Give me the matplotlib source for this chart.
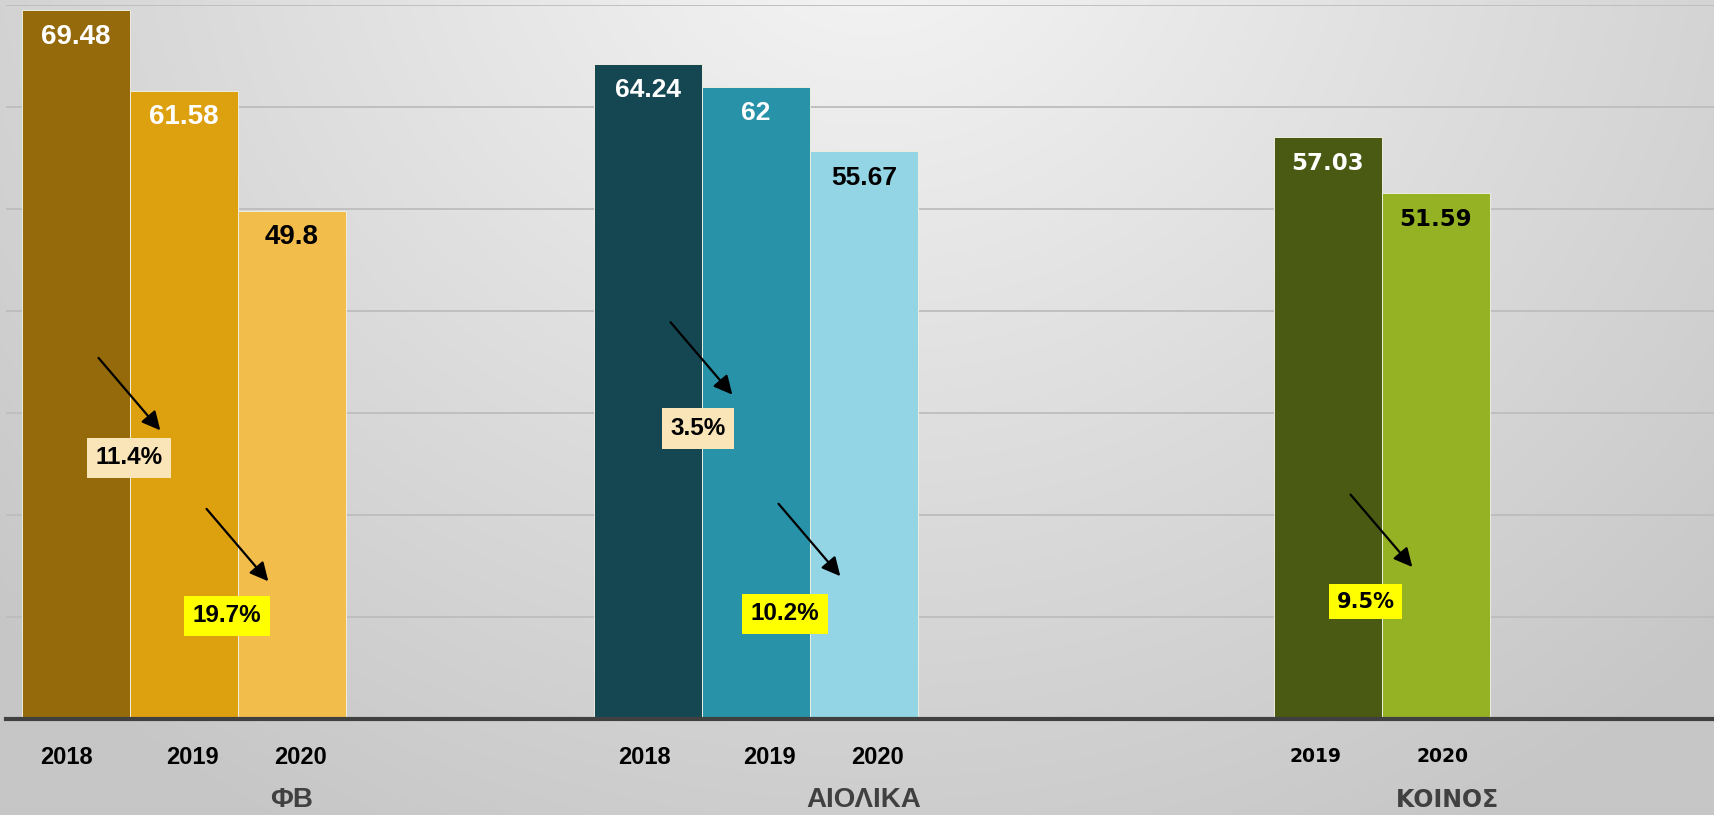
import numpy as np
import matplotlib
matplotlib.use("Agg")
import matplotlib.pyplot as plt
from matplotlib import font_manager as fm
from matplotlib.transforms import blended_transform_factory

# ---------------- data ----------------
categories = ['ΦΒ', 'ΑΙΟΛΙΚΑ', 'ΚΟΙΝΟΣ']
years = ['2018', '2019', '2020']
v2018 = [69.48, 64.24, np.nan]
v2019 = [61.58, 62.0, 57.03]
v2020 = [49.80, 55.67, 51.59]
v_extra = [0.15, np.nan, np.nan]      # tiny 4th bar in ΦΒ group

colors2018 = ['#946A0B', '#154753', '#000000']
colors2019 = ['#DDA00F', '#2892A8', '#4A5A12']
colors2020 = ['#F2BD4A', '#94D5E5', '#94B224']
label_colors = ['white', 'white', 'black']

change_labels = ['11.4%', '19.7%', '3.5%', '10.2%', '9.5%']
change_cat = [0, 0, 1, 1, 2]
change_slot = [0, 1, 0, 1, 1]          # arrow from slot j to slot j+1
arrow_start = [35.4, 20.6, 38.9, 21.1, 22.0]
arrow_drop = 7.1
box_y = [25.6, 10.1, 28.5, 10.3, 11.5]
box_dx = [-0.002, -0.019, -0.007, -0.044, -0.028]
box_colors = ['#FAE5B8', '#FFFF00', '#FAE5B8', '#FFFF00', '#FFFF00']

year_dx = [[-0.016, 0.014, 0.014], [-0.007, 0.024, 0.024], [0, -0.021, 0.012]]

# ---------------- fonts ----------------
avail = {f.name for f in fm.fontManager.ttflist}
base_font = 'Liberation Sans' if 'Liberation Sans' in avail else 'DejaVu Sans'
narrow_font = 'Liberation Sans Narrow' if 'Liberation Sans Narrow' in avail else base_font
wide_font = 'DejaVu Sans'
group_fonts = [narrow_font, base_font, wide_font]
value_sizes = [20, 19, 16.5]
year_sizes = [17, 17, 13.5]

W, H = 1715, 815
fig = plt.figure(figsize=(W / 100, H / 100), dpi=100)

# background gradient
bg = fig.add_axes([0, 0, 1, 1], zorder=-10)
yy, xx = np.mgrid[0:H, 0:W]
d = np.sqrt(((xx - 870) / 1000.0) ** 2 + ((yy + 100) / 900.0) ** 2)
val = np.clip(246 - 40 * d, 198, 250) / 255.0
bg.imshow(np.dstack([val, val, val]), aspect='auto', extent=[0, 1, 0, 1], origin='upper')
bg.axis('off')

ax = fig.add_axes([6 / W, 96 / H, (W - 6) / W, 714 / H])
ax.patch.set_alpha(0)
ax.set_xlim(-0.5, -0.5 + (W - 6) / 572)
ax.set_ylim(0, 70)

w = 108 / 572
nslots = 5
x = np.arange(len(categories))
fig_y = blended_transform_factory(ax.transData, fig.transFigure)

def slot_x(i, j):
    return x[i] + (j - (nslots - 1) / 2) * w

series = [v2018, v2019, v2020]
series_colors = [colors2018, colors2019, colors2020]
for j, (vals, cols) in enumerate(zip(series, series_colors)):
    for i, v in enumerate(vals):
        if np.isnan(v):
            continue
        ax.bar(slot_x(i, j), v, width=w, color=cols[i], edgecolor='#EDEDE0',
               linewidth=0.7, zorder=3)
        ax.annotate(f"{v:g}", (slot_x(i, j), v), xytext=(0, -19), textcoords='offset points',
                    ha='center', va='center', fontsize=value_sizes[i], fontweight='bold',
                    color=label_colors[j], family=group_fonts[i], zorder=5)
        ax.text(slot_x(i, j) + year_dx[i][j], (H - 757) / H, years[j], transform=fig_y,
                ha='center', va='center', fontsize=year_sizes[i],
                fontweight='bold', color='black', family=group_fonts[i])
for i, v in enumerate(v_extra):
    if not np.isnan(v):
        ax.bar(slot_x(i, 3), v, width=w, color='#F2E9A6', edgecolor='#F2E9A6',
               linewidth=0.7, zorder=3)

# category labels
for i, c in enumerate(categories):
    fs = 20 if i < 2 else 17
    ax.text(x[i] + (0.02 if i == 2 else 0), (H - 800) / H, c, transform=fig_y,
            ha='center', va='center', fontsize=fs, fontweight='bold',
            color='#404040', family=wide_font if i == 2 else base_font)

# change arrows and boxes
for k, lab in enumerate(change_labels):
    i, j = change_cat[k], change_slot[k]
    bx = slot_x(i, j) + w / 2
    ax.annotate('', xy=(bx + 0.053, arrow_start[k] - arrow_drop),
                xytext=(bx - 0.055, arrow_start[k]),
                arrowprops=dict(arrowstyle='-|>', color='black', lw=1.6,
                                mutation_scale=28, shrinkA=0, shrinkB=0), zorder=6)
    ax.text(bx + box_dx[k], box_y[k], lab, ha='center', va='center',
            fontsize=17.5 if i < 2 else 15, fontweight='bold', color='black',
            family=base_font if i < 2 else wide_font, zorder=7,
            bbox=dict(boxstyle='square,pad=0.36', facecolor=box_colors[k], edgecolor='none'))

# grid & axis
ax.set_yticks(np.arange(10, 71, 10))
ax.yaxis.grid(True, color='#BDBDBD', linewidth=1.3, zorder=0)
ax.set_axisbelow(True)
ax.tick_params(left=False, bottom=False, labelleft=False, labelbottom=False)
for s in ['left', 'right', 'top']:
    ax.spines[s].set_visible(False)
ax.spines['bottom'].set_color('#404040')
ax.spines['bottom'].set_linewidth(3)
ax.spines['bottom'].set_zorder(4)

fig.savefig('out.png', dpi=100)
